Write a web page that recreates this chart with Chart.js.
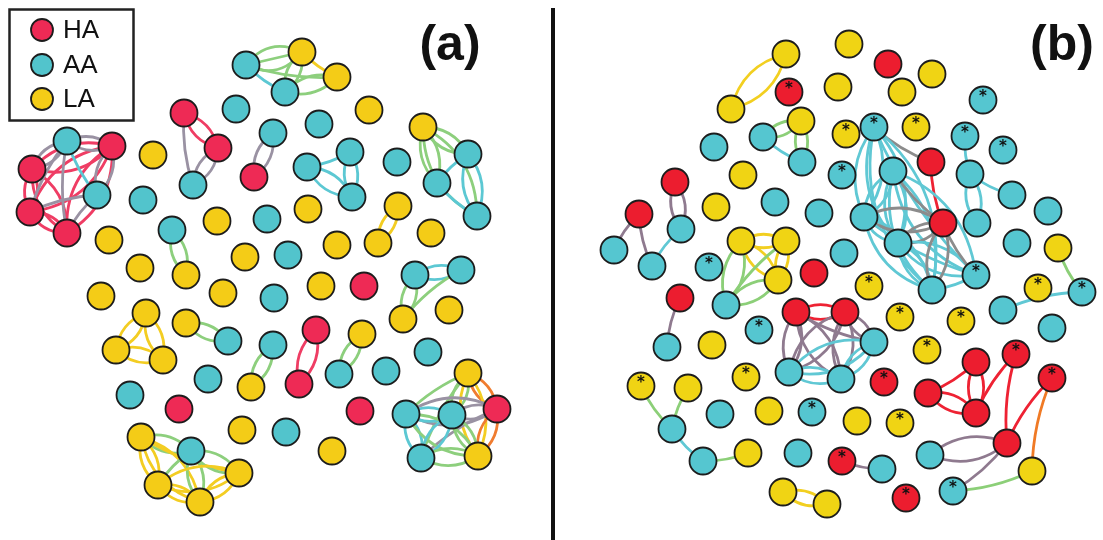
<!DOCTYPE html>
<html><head><meta charset="utf-8">
<script src="https://cdn.jsdelivr.net/npm/chart.js@4.4.1/dist/chart.umd.min.js"></script>
<style>html,body{margin:0;padding:0;background:#fff}#wrap{width:1103px;height:540px;position:relative}</style>
</head><body><div id="wrap"><canvas id="c"></canvas></div>
<script>
// ---- Data ----
const categories = ['HA','AA','LA'];
const panelLabels = ['(a)','(b)'];
// node: [id, x, y, type]
const panelANodes = [
['a01',67,141,'AA'],['a02',112,146,'HA'],['a03',32,169,'HA'],['a04',97,195,'AA'],['a05',30,212,'HA'],['a06',67,233,'HA'],
['a07',153,155,'LA'],['a08',143,200,'AA'],['a09',109,240,'LA'],['a10',184,113,'HA'],['a11',218,148,'HA'],['a12',193,185,'AA'],
['a13',172,230,'AA'],['a14',217,221,'LA'],['a15',236,109,'AA'],['a16',246,65,'AA'],['a17',273,133,'AA'],['a18',254,177,'HA'],
['a19',267,219,'AA'],['a20',245,257,'LA'],['a21',140,268,'LA'],['a22',186,275,'LA'],['a23',302,52,'LA'],['a24',337,77,'LA'],
['a25',285,92,'AA'],['a26',319,124,'AA'],['a27',369,110,'LA'],['a28',350,152,'AA'],['a29',307,167,'AA'],['a30',352,197,'AA'],
['a31',397,162,'AA'],['a32',423,127,'LA'],['a33',468,154,'AA'],['a34',437,183,'AA'],['a35',477,216,'AA'],['a36',308,209,'LA'],
['a37',398,206,'LA'],['a38',431,233,'LA'],['a39',378,243,'LA'],['a40',337,245,'LA'],['a41',288,255,'AA'],['a42',415,275,'AA'],
['a43',461,270,'AA'],['a44',101,296,'LA'],['a45',223,293,'LA'],['a46',274,298,'AA'],['a47',146,313,'LA'],['a48',186,323,'LA'],
['a49',228,341,'AA'],['a50',116,350,'LA'],['a51',163,360,'LA'],['a52',273,345,'AA'],['a53',208,379,'AA'],['a54',251,387,'LA'],
['a55',130,395,'AA'],['a56',179,409,'HA'],['a57',242,430,'LA'],['a58',286,432,'AA'],['a59',141,437,'LA'],['a60',191,451,'AA'],
['a61',239,473,'LA'],['a62',158,485,'LA'],['a63',200,502,'LA'],['a64',321,286,'LA'],['a65',364,286,'HA'],['a66',403,319,'LA'],
['a67',449,310,'LA'],['a68',316,330,'HA'],['a69',362,334,'LA'],['a70',299,384,'HA'],['a71',339,374,'AA'],['a72',386,371,'AA'],
['a73',428,352,'AA'],['a74',468,373,'LA'],['a75',360,411,'HA'],['a76',406,414,'AA'],['a77',452,415,'AA'],['a78',497,409,'HA'],
['a79',332,451,'LA'],['a80',421,458,'AA'],['a81',478,456,'LA']
];
// edge: [from, to, count]
const panelAEdges = [
['a02','a03',2],['a02','a05',2],['a02','a06',2],['a03','a05',2],['a03','a06',2],['a05','a06',2],
['a01','a02',2],['a01','a03',2],['a01','a05',1],['a01','a06',1],['a01','a04',1],['a04','a02',2],['a04','a05',1],['a04','a06',1],
['a10','a11',2],['a10','a12',1],['a11','a12',2],['a17','a18',2],
['a16','a23',3],['a16','a25',1],['a16','a24',1],['a25','a23',2],['a25','a24',2],['a23','a24',1],
['a29','a28',1],['a29','a30',2],['a28','a30',2],
['a32','a33',2],['a32','a34',2],['a32','a35',2],['a33','a34',1],['a33','a35',2],['a34','a35',1],
['a37','a39',2],['a13','a22',2],['a47','a50',2],['a47','a51',2],['a50','a51',2],['a48','a49',2],['a52','a54',2],
['a68','a70',2],['a69','a71',2],['a42','a43',2],['a42','a66',2],['a43','a66',1],
['a59','a60',2],['a59','a61',1],['a59','a62',2],['a59','a63',2],['a60','a61',2],['a60','a62',1],['a60','a63',2],
['a61','a62',2],['a61','a63',2],['a62','a63',2],
['a74','a78',2],['a74','a76',1],['a74','a77',2],['a74','a80',1],['a74','a81',2],['a78','a76',2],['a78','a77',2],
['a78','a80',1],['a78','a81',2],['a76','a77',2],['a76','a80',2],['a76','a81',2],['a77','a80',2],['a77','a81',2],['a80','a81',2]
];
// node: [id, x, y, type, starred]
const panelBNodes = [
['b01',786,54,'LA',0],['b02',789,92,'HA',1],['b03',731,109,'LA',0],['b04',801,121,'LA',0],['b05',763,137,'AA',0],
['b06',802,162,'AA',0],['b07',714,147,'AA',0],['b08',743,175,'LA',0],['b09',675,182,'HA',0],['b10',716,207,'LA',0],
['b11',775,202,'AA',0],['b12',819,213,'AA',0],['b13',639,214,'HA',0],['b14',681,229,'AA',0],['b15',614,250,'AA',0],
['b16',652,266,'AA',0],['b17',709,267,'AA',1],['b18',741,241,'LA',0],['b19',786,241,'LA',0],['b20',838,87,'LA',0],
['b21',846,134,'LA',1],['b22',849,44,'LA',0],['b23',888,64,'HA',0],['b24',932,74,'LA',0],['b25',902,92,'LA',0],
['b26',983,100,'AA',1],['b27',874,127,'AA',1],['b28',916,127,'LA',1],['b29',965,136,'AA',1],['b30',1003,150,'AA',1],
['b31',842,175,'AA',1],['b32',893,171,'AA',0],['b33',931,162,'HA',0],['b34',970,174,'AA',0],['b35',1012,195,'AA',0],
['b36',1048,211,'AA',0],['b37',864,217,'AA',0],['b38',943,223,'HA',0],['b39',977,223,'AA',0],['b40',898,243,'AA',0],
['b41',844,253,'AA',0],['b42',1017,243,'AA',0],['b43',1058,248,'LA',0],['b44',976,275,'AA',1],['b45',932,290,'AA',0],
['b46',869,286,'LA',1],['b47',1038,288,'LA',1],['b48',1082,292,'AA',1],['b49',1003,310,'AA',0],['b50',900,317,'LA',1],
['b51',961,321,'LA',1],['b52',1052,328,'AA',0],['b53',874,342,'AA',0],['b54',927,350,'LA',1],['b55',976,362,'HA',0],
['b56',1016,354,'HA',1],['b57',845,312,'HA',0],['b58',841,379,'AA',0],['b59',884,382,'HA',1],['b60',928,393,'HA',0],
['b61',1052,378,'HA',1],['b62',976,413,'HA',0],['b63',857,421,'LA',0],['b64',900,423,'LA',1],['b65',1007,443,'HA',0],
['b66',930,455,'AA',0],['b67',842,461,'HA',1],['b68',882,469,'AA',0],['b69',1032,471,'LA',0],['b70',906,498,'HA',1],
['b71',953,491,'AA',1],['b73',778,280,'LA',0],['b74',814,273,'HA',0],['b75',680,298,'HA',0],
['b76',726,305,'AA',0],['b77',796,312,'HA',0],['b78',759,330,'AA',1],['b79',667,347,'AA',0],['b80',712,345,'LA',0],
['b81',789,372,'AA',0],['b82',746,377,'LA',1],['b83',641,386,'LA',1],['b84',688,388,'LA',0],['b85',720,414,'AA',0],
['b86',769,411,'LA',0],['b87',812,412,'AA',1],['b88',672,429,'AA',0],['b89',748,453,'LA',0],['b90',798,453,'AA',0],
['b91',703,461,'AA',0],['b92',783,492,'LA',0],['b93',827,504,'LA',0]
];
// edge: [from, to, count, grey-variant]
const panelBEdges = [
['b01','b03',2],['b05','b04',2],['b04','b06',2],['b05','b06',1],
['b09','b14',2],['b13','b15',1],['b13','b16',1],['b14','b16',1],
['b18','b19',2],['b18','b73',2],['b19','b73',2],['b18','b76',2],['b19','b76',1],['b73','b76',2],['b75','b79',1],
['b77','b57',2],['b77','b81',2],['b77','b58',2],['b77','b53',1],['b57','b81',2],['b57','b58',2],['b57','b53',2],
['b53','b81',2],['b53','b58',2],['b81','b58',2],
['b27','b33',1,1],['b33','b38',1],
['b27','b37',2],['b27','b40',2],['b27','b45',2],['b27','b44',1],['b32','b37',2],['b32','b40',2],['b32','b45',2],['b32','b44',2],
['b32','b38',1,1],['b37','b40',2],['b37','b45',2],['b37','b38',2,1],['b37','b44',1],['b40','b38',2,1],['b40','b45',2],['b40','b44',2],
['b38','b45',2,1],['b38','b44',1,1],['b45','b44',1],
['b29','b34',1],['b34','b39',2],['b34','b35',1],['b43','b48',1],['b48','b49',1],
['b60','b55',1],['b60','b62',2],['b55','b62',2],['b56','b62',1],['b56','b65',1],['b61','b65',1],['b61','b69',1],
['b66','b65',2],['b71','b65',1],['b71','b69',1],['b67','b68',1],
['b83','b88',1],['b84','b88',1],['b88','b91',1],['b91','b89',1],['b92','b93',2]
];

// ---- Styles ----
const nodeFill = [
  {HA:'#ee2a55', AA:'#52c4cc', LA:'#f4cc17'},
  {HA:'#ec1d2f', AA:'#55c6d0', LA:'#f0d414'}
];
const edgeFill = [
  {'HA-HA':'#ef3d64','AA-AA':'#5cc8d3','LA-LA':'#f3cd22','AA-HA':'#9a92a3','AA-LA':'#8dcf7d','HA-LA':'#f07c30'},
  {'HA-HA':'#ee2233','AA-AA':'#60c8d4','LA-LA':'#f2cf20','AA-HA':'#8f7a8f','AA-LA':'#8ccf78','HA-LA':'#f07a25'}
];
const panels = [{nodes:panelANodes, edges:panelAEdges},{nodes:panelBNodes, edges:panelBEdges}];

const datasets = [];
panels.forEach((p,pi)=>{
  categories.forEach(cat=>{
    datasets.push({
      label: cat,
      data: p.nodes.filter(n=>n[3]===cat).map(n=>({x:n[1],y:n[2],star:n[4]||0})),
      backgroundColor: nodeFill[pi][cat],
      borderColor: '#1c1c1c',
      pointRadius: 13.5, pointHoverRadius: 13.5, pointBorderWidth: 1.8,
      showLine:false, clip:false
    });
  });
});

const edgePlugin = {
  id:'edges',
  beforeDatasetsDraw(chart){
    const {ctx, scales:{x, y}} = chart;
    ctx.save(); ctx.lineCap='round'; ctx.lineWidth=2.8;
    panels.forEach((p,pi)=>{
      const map = {}; p.nodes.forEach(n=>map[n[0]]=n);
      p.edges.forEach(e=>{
        const a=map[e[0]], b=map[e[1]];
        const key=[a[3],b[3]].sort().join('-');
        const col = e[3] ? '#8c8c8c' : edgeFill[pi][key];
        const x1=x.getPixelForValue(a[1]), y1=y.getPixelForValue(a[2]);
        const x2=x.getPixelForValue(b[1]), y2=y.getPixelForValue(b[2]);
        const dx=x2-x1, dy=y2-y1, len=Math.hypot(dx,dy);
        const nx=-dy/len, ny=dx/len;
        const n=e[2];
        for(let k=0;k<n;k++){
          const f = n===1 ? 0.1 : (k-(n-1)/2)*(n===2?0.6:0.4);
          const cx=(x1+x2)/2+nx*f*len, cy=(y1+y2)/2+ny*f*len;
          ctx.strokeStyle=col;
          ctx.beginPath(); ctx.moveTo(x1,y1); ctx.quadraticCurveTo(cx,cy,x2,y2); ctx.stroke();
        }
      });
    });
    ctx.restore();
  }
};

const decoPlugin = {
  id:'deco',
  afterDatasetsDraw(chart){
    const {ctx, scales:{x, y}} = chart;
    ctx.save();
    // asterisks
    ctx.fillStyle='#111'; ctx.font='bold 15px "DejaVu Sans"'; ctx.textAlign='center'; ctx.textBaseline='middle';
    panelBNodes.filter(n=>n[4]).forEach(n=>{
      ctx.fillText('*', x.getPixelForValue(n[1]), y.getPixelForValue(n[2])-3);
    });
    // divider
    ctx.strokeStyle='#111'; ctx.lineWidth=4;
    ctx.beginPath(); ctx.moveTo(x.getPixelForValue(553), y.getPixelForValue(8)); ctx.lineTo(x.getPixelForValue(553), y.getPixelForValue(540)); ctx.stroke();
    // panel labels
    ctx.font='bold 50px "Liberation Sans", Arial, sans-serif'; ctx.textBaseline='middle';
    ctx.fillText(panelLabels[0], x.getPixelForValue(450), y.getPixelForValue(46));
    ctx.fillText(panelLabels[1], x.getPixelForValue(1062), y.getPixelForValue(46));
    // legend
    ctx.lineWidth=2.5; ctx.strokeStyle='#222';
    ctx.strokeRect(x.getPixelForValue(9.5), y.getPixelForValue(9.5), 124, 111);
    const ly=[30,65,99];
    categories.forEach((c,i)=>{
      ctx.beginPath(); ctx.arc(x.getPixelForValue(42), y.getPixelForValue(ly[i]), 11, 0, Math.PI*2);
      ctx.fillStyle=nodeFill[0][c]; ctx.fill(); ctx.lineWidth=1.8; ctx.strokeStyle='#1c1c1c'; ctx.stroke();
      ctx.fillStyle='#111'; ctx.font='26px "Liberation Sans", Arial, sans-serif'; ctx.textAlign='left';
      ctx.fillText(c, x.getPixelForValue(63), y.getPixelForValue(ly[i]+1));
    });
    ctx.restore();
  }
};

new Chart(document.getElementById('c'), {
  type:'scatter',
  data:{datasets},
  options:{
    responsive:true, maintainAspectRatio:false, animation:false,
    events:[],
    layout:{padding:0, autoPadding:false},
    scales:{
      x:{type:'linear', min:0, max:1103, display:false},
      y:{type:'linear', min:0, max:540, reverse:true, display:false}
    },
    plugins:{legend:{display:false}, tooltip:{enabled:false}}
  },
  plugins:[edgePlugin, decoPlugin]
});
</script></body></html>
